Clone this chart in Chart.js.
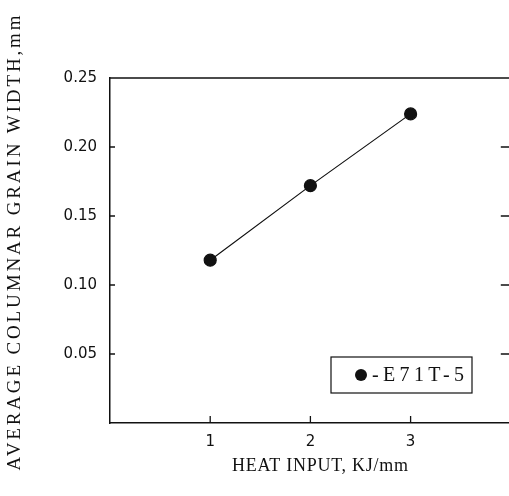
<!DOCTYPE html>
<html>
<head>
<meta charset="utf-8">
<script src="https://cdn.jsdelivr.net/npm/chart.js@4/dist/chart.umd.min.js"></script>
<style>
  html, body { margin: 0; padding: 0; background: #fff; overflow: hidden; }
  #wrap { width: 518px; height: 496px; }
</style>
</head>
<body>
<div id="wrap"><canvas id="grain"></canvas></div>
<script>
// data
const heatInput = [1, 2, 3];
const grainWidth = [0.118, 0.172, 0.224];
const seriesName = "-E71T-5";
const xTicks = [1, 2, 3];
const yTicks = [0.05, 0.10, 0.15, 0.20, 0.25];
const xTitle = "HEAT INPUT, KJ/mm";
const yTitle = "AVERAGE COLUMNAR GRAIN WIDTH,mm";

const ink = "#111";

// draw text stretched to a given width (the scan uses wide spacing)
function spacedText(ctx, text, x, y, width) {
  ctx.letterSpacing = "0px";
  const w = ctx.measureText(text).width;
  const sp = Math.max(0, (width - w) / (text.length - 1));
  ctx.letterSpacing = sp + "px";
  ctx.textAlign = "left";
  ctx.fillText(text, x - width / 2, y);
  ctx.letterSpacing = "0px";
}

// inward ticks, top border, titles, legend box
const framePlugin = {
  id: "frame",
  afterDraw(chart) {
    const ctx = chart.ctx;
    const a = chart.chartArea;
    const xs = chart.scales.x, ys = chart.scales.y;
    ctx.save();
    ctx.strokeStyle = ink;
    ctx.lineWidth = 1.3;
    ctx.beginPath();
    ctx.moveTo(a.left, a.top);
    ctx.lineTo(a.right, a.top);
    yTicks.forEach((v) => {
      const py = ys.getPixelForValue(v);
      ctx.moveTo(a.left, py);
      ctx.lineTo(a.left + 5, py);
      ctx.moveTo(a.right, py);
      ctx.lineTo(a.right - 10, py);
    });
    xTicks.forEach((v) => {
      const px = xs.getPixelForValue(v);
      ctx.moveTo(px, a.bottom);
      ctx.lineTo(px, a.bottom - 7);
    });
    ctx.stroke();

    ctx.fillStyle = ink;
    ctx.textBaseline = "middle";
    ctx.font = "18px 'Liberation Serif', serif";
    spacedText(ctx, xTitle, 320, 466, 176);

    ctx.save();
    ctx.translate(15, 243);
    ctx.rotate(-Math.PI / 2);
    ctx.font = "19px 'Liberation Serif', serif";
    spacedText(ctx, yTitle, 0, 0, 455);
    ctx.restore();

    // legend
    const bx = a.left + 221, by = a.bottom - 66;
    ctx.lineWidth = 1.2;
    ctx.strokeRect(bx, by, 141, 36);
    ctx.beginPath();
    ctx.arc(bx + 30, by + 18, 6, 0, Math.PI * 2);
    ctx.fill();
    ctx.font = "20px 'Liberation Serif', serif";
    spacedText(ctx, seriesName, bx + 41 + 46, by + 19, 92);
    ctx.restore();
  },
};

new Chart(document.getElementById("grain"), {
  type: "line",
  data: {
    datasets: [
      {
        label: seriesName,
        data: heatInput.map((x, i) => ({ x: x, y: grainWidth[i] })),
        borderColor: ink,
        borderWidth: 1.2,
        pointBackgroundColor: ink,
        pointBorderColor: ink,
        pointRadius: 6,
        tension: 0,
      },
    ],
  },
  options: {
    responsive: true,
    maintainAspectRatio: false,
    animation: false,
    layout: { padding: { top: 78, right: 0, left: 0, bottom: 0 } },
    plugins: { legend: { display: false }, tooltip: { enabled: false } },
    scales: {
      x: {
        type: "linear",
        min: 0,
        max: 4,
        grid: { display: false, drawTicks: false },
        border: { display: true, color: ink, width: 1.5 },
        afterBuildTicks: (s) => { s.ticks = xTicks.map((v) => ({ value: v })); },
        ticks: {
          color: ink,
          padding: 10,
          font: { family: "'DejaVu Sans'", size: 15 },
        },
        afterFit: (s) => { s.height = 73; },
      },
      y: {
        min: 0,
        max: 0.25,
        grid: { display: false, drawTicks: false },
        border: { display: true, color: ink, width: 1.5 },
        afterBuildTicks: (s) => { s.ticks = yTicks.map((v) => ({ value: v })); },
        ticks: {
          color: ink,
          padding: 13,
          font: { family: "'DejaVu Sans'", size: 15 },
          callback: (v) => v.toFixed(2),
        },
        afterFit: (s) => { s.width = 110; },
      },
    },
  },
  plugins: [framePlugin],
});
</script>
</body>
</html>
